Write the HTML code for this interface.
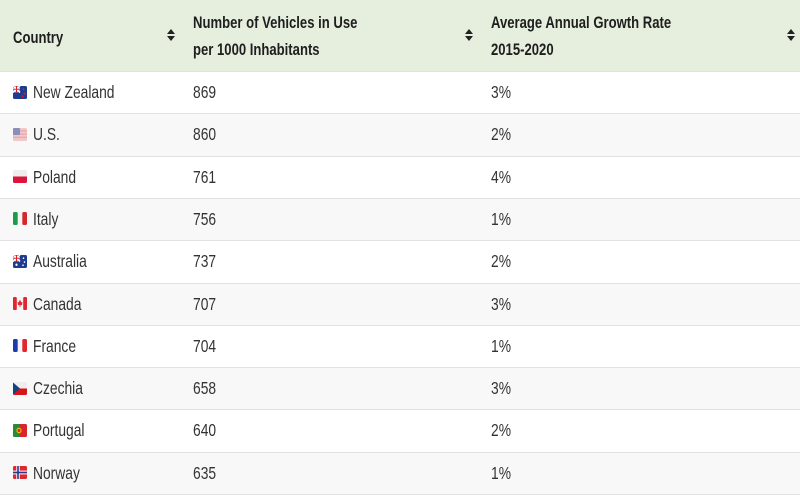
<!DOCTYPE html>
<html><head><meta charset="utf-8"><style>
html,body{margin:0;padding:0;background:#fff;}
#w{position:relative;width:800px;height:500px;overflow:hidden;background:#fff;font-family:"Liberation Sans",Arial,sans-serif;}
.hdr{position:absolute;left:0;top:0;width:800px;height:71px;background:#e6efde;}
.row{position:absolute;left:0;width:800px;height:42.3px;border-top:1.5px solid #e2e2e2;box-sizing:border-box;}
.row.g{background:#f8f8f8;}
.t{position:absolute;white-space:nowrap;transform-origin:0 50%;}
.h{font-weight:bold;font-size:17px;color:#1e1e1e;transform:scaleX(0.77);}
.b{font-size:17.5px;color:#333;transform:scaleX(0.79);line-height:42.3px;top:-1px;}
.flag{position:absolute;left:13px;top:13.5px;}
.sort{position:absolute;width:8px;height:14px;top:28.5px;}
.sort:before{content:"";position:absolute;left:0;top:0;border-left:4px solid transparent;border-right:4px solid transparent;border-bottom:5.5px solid #222;}
.sort:after{content:"";position:absolute;left:0;top:7.5px;border-left:4px solid transparent;border-right:4px solid transparent;border-top:5.5px solid #222;}
</style></head><body><div id="w">
<div class="hdr">
  <div class="t h" style="left:13px;top:2px;line-height:71px;">Country</div>
  <div class="sort" style="left:167px;"></div>
  <div class="t h" style="left:193px;top:9px;line-height:27px;">Number of Vehicles in Use<br>per 1000 Inhabitants</div>
  <div class="sort" style="left:465px;"></div>
  <div class="t h" style="left:491px;top:9px;line-height:27px;">Average Annual Growth Rate<br>2015-2020</div>
  <div class="sort" style="left:787px;"></div>
</div>

<div class="row" style="top:71px;">
  <svg class="flag" width="14" height="13" viewBox="0 0 14 12" preserveAspectRatio="none"><rect width="14" height="12" rx="1.5" fill="#1f3b8f"/><rect x="0" y="0" width="7" height="6" fill="#2d4aa0"/><path d="M0 0L7 6M7 0L0 6" stroke="#fff" stroke-width="1.5"/><path d="M3.5 0V6M0 3H7" stroke="#fff" stroke-width="2"/><path d="M3.5 0V6M0 3H7" stroke="#d22" stroke-width="1"/><circle cx="10.5" cy="3" r="0.9" fill="#d22"/><circle cx="11.5" cy="7" r="0.9" fill="#d22"/><circle cx="9.5" cy="9.5" r="0.9" fill="#d22"/></svg>
  <div class="t b" style="left:33px;">New Zealand</div>
  <div class="t b" style="left:193px;">869</div>
  <div class="t b" style="left:491px;">3%</div>
</div>
<div class="row g" style="top:113.3px;">
  <svg class="flag" width="14" height="13" viewBox="0 0 14 12" preserveAspectRatio="none"><rect width="14" height="12" rx="1.5" fill="#f1c9cc"/><rect y="2" width="14" height="1.3" fill="#e9a8ad"/><rect y="5" width="14" height="1.3" fill="#e9a8ad"/><rect y="8" width="14" height="1.3" fill="#e9a8ad"/><rect width="7" height="6.5" rx="1" fill="#8a8fb8"/></svg>
  <div class="t b" style="left:33px;">U.S.</div>
  <div class="t b" style="left:193px;">860</div>
  <div class="t b" style="left:491px;">2%</div>
</div>
<div class="row" style="top:155.6px;">
  <svg class="flag" width="14" height="13" viewBox="0 0 14 12" preserveAspectRatio="none"><rect width="14" height="12" rx="1.5" fill="#eee"/><rect y="6" width="14" height="6" rx="1.5" fill="#dc143c"/><rect y="6" width="14" height="2" fill="#dc143c"/></svg>
  <div class="t b" style="left:33px;">Poland</div>
  <div class="t b" style="left:193px;">761</div>
  <div class="t b" style="left:491px;">4%</div>
</div>
<div class="row g" style="top:197.9px;">
  <svg class="flag" width="14" height="13" viewBox="0 0 14 12" preserveAspectRatio="none"><rect width="14" height="12" rx="1.5" fill="#f4f4f4"/><rect width="4.7" height="12" rx="1.5" fill="#1e9b4a"/><rect x="9.3" width="4.7" height="12" rx="1.5" fill="#d8262e"/></svg>
  <div class="t b" style="left:33px;">Italy</div>
  <div class="t b" style="left:193px;">756</div>
  <div class="t b" style="left:491px;">1%</div>
</div>
<div class="row" style="top:240.2px;">
  <svg class="flag" width="14" height="13" viewBox="0 0 14 12" preserveAspectRatio="none"><rect width="14" height="12" rx="1.5" fill="#1f3b8f"/><path d="M0 0L7 6M7 0L0 6" stroke="#fff" stroke-width="1.5"/><path d="M3.5 0V6M0 3H7" stroke="#fff" stroke-width="2"/><path d="M3.5 0V6M0 3H7" stroke="#d22" stroke-width="1"/><circle cx="3.5" cy="9" r="1.1" fill="#fff"/><circle cx="10.5" cy="3" r="0.8" fill="#fff"/><circle cx="11.5" cy="6.5" r="0.8" fill="#fff"/><circle cx="10" cy="9.5" r="0.8" fill="#fff"/></svg>
  <div class="t b" style="left:33px;">Australia</div>
  <div class="t b" style="left:193px;">737</div>
  <div class="t b" style="left:491px;">2%</div>
</div>
<div class="row g" style="top:282.5px;">
  <svg class="flag" width="14" height="13" viewBox="0 0 14 12" preserveAspectRatio="none"><rect width="14" height="12" rx="1.5" fill="#f4f4f4"/><rect width="3.8" height="12" rx="1.2" fill="#e0262e"/><rect x="10.2" width="3.8" height="12" rx="1.2" fill="#e0262e"/><path d="M7 2.5L8.3 5L9.5 4.5L9 7.5L7.4 7.5V9.5H6.6V7.5L5 7.5L4.5 4.5L5.7 5Z" fill="#e0262e"/></svg>
  <div class="t b" style="left:33px;">Canada</div>
  <div class="t b" style="left:193px;">707</div>
  <div class="t b" style="left:491px;">3%</div>
</div>
<div class="row" style="top:324.8px;">
  <svg class="flag" width="14" height="13" viewBox="0 0 14 12" preserveAspectRatio="none"><rect width="14" height="12" rx="1.5" fill="#f4f4f4"/><rect width="4.7" height="12" rx="1.5" fill="#1d3bb0"/><rect x="9.3" width="4.7" height="12" rx="1.5" fill="#e0262e"/></svg>
  <div class="t b" style="left:33px;">France</div>
  <div class="t b" style="left:193px;">704</div>
  <div class="t b" style="left:491px;">1%</div>
</div>
<div class="row g" style="top:367.1px;">
  <svg class="flag" width="14" height="13" viewBox="0 0 14 12" preserveAspectRatio="none"><rect width="14" height="12" rx="1.5" fill="#eee"/><rect y="6" width="14" height="6" rx="1.5" fill="#d7141a"/><rect y="6" width="14" height="2" fill="#d7141a"/><path d="M0 0.5L7 6L0 11.5Z" fill="#11457e"/></svg>
  <div class="t b" style="left:33px;">Czechia</div>
  <div class="t b" style="left:193px;">658</div>
  <div class="t b" style="left:491px;">3%</div>
</div>
<div class="row" style="top:409.4px;">
  <svg class="flag" width="14" height="13" viewBox="0 0 14 12" preserveAspectRatio="none"><rect width="14" height="12" rx="1.5" fill="#d8262e"/><rect width="6" height="12" rx="1.5" fill="#2a8a3a"/><rect x="3" width="3" height="12" fill="#2a8a3a"/><circle cx="6" cy="6" r="2.6" fill="#f2c200"/><circle cx="6" cy="6" r="1.5" fill="#d8262e"/></svg>
  <div class="t b" style="left:33px;">Portugal</div>
  <div class="t b" style="left:193px;">640</div>
  <div class="t b" style="left:491px;">2%</div>
</div>
<div class="row g" style="top:451.7px;border-bottom:1.5px solid #e2e2e2;height:43.8px;">
  <svg class="flag" width="14" height="13" viewBox="0 0 14 12" preserveAspectRatio="none"><rect width="14" height="12" rx="1.5" fill="#e0262e"/><path d="M5 0V12M0 6H14" stroke="#fff" stroke-width="3.4"/><path d="M5 0V12M0 6H14" stroke="#1d3b8f" stroke-width="1.6"/></svg>
  <div class="t b" style="left:33px;">Norway</div>
  <div class="t b" style="left:193px;">635</div>
  <div class="t b" style="left:491px;">1%</div>
</div>
</div></body></html>
